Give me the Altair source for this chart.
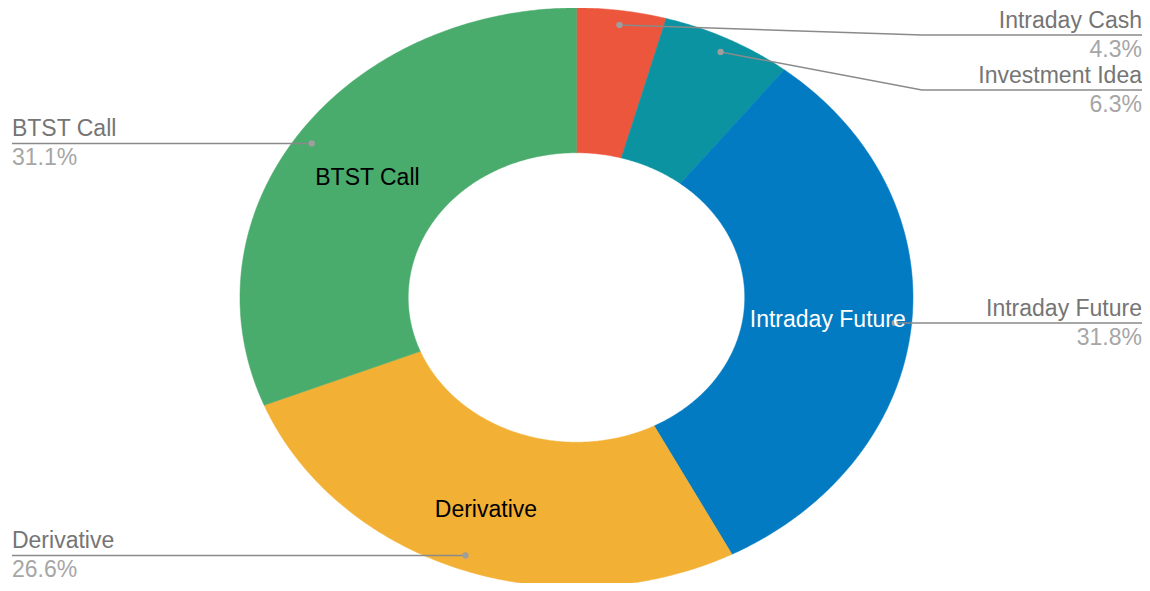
import altair as alt
import numpy as np
import pandas as pd

# ---- data ----
names = ["Intraday Cash", "Investment Idea", "Intraday Future", "Derivative", "BTST Call"]
values = [4.3, 6.3, 31.8, 26.6, 31.1]
slice_colors = ["#EB563C", "#0B93A1", "#027BC2", "#F2B035", "#49AB6C"]
inner_label_colors = ["", "", "#FFFFFF", "#000000", "#000000"]
label_side = ["right", "right", "right", "left", "left"]

# ---- layout (data units of the stretched unit circle) ----
INNER_R, OUTER_R, DOT_R = 0.5, 1.0, 0.95
inner_label_r = [0.75, 0.75, 0.75, 0.775, 0.75]
X_DOM = [-1.6894, 1.6806]
Y_DOM = [-0.9862, 1.0]
RIGHT_X, LEFT_X, ELBOW_X = 1.6806, -1.6776, 1.0267
pushed_line_y = {"Intraday Cash": 0.9067, "Investment Idea": 0.7168}

total = float(sum(values))
cum = np.concatenate([[0.0], np.cumsum(values)]) / total * 2 * np.pi

poly_rows, lead_rows, lab_rows = [], [], []
for k, (n, v) in enumerate(zip(names, values)):
    a0, a1 = cum[k], cum[k + 1]
    steps = max(int(np.degrees(a1 - a0) * 2), 4)
    ang = np.linspace(a0, a1, steps + 1)
    pts = [(OUTER_R * np.sin(a), OUTER_R * np.cos(a)) for a in ang]
    pts += [(INNER_R * np.sin(a), INNER_R * np.cos(a)) for a in ang[::-1]]
    for i, (x, y) in enumerate(pts):
        poly_rows.append({"name": n, "i": i, "x": x, "y": y})

    mid = (a0 + a1) / 2
    dx, dy = DOT_R * np.sin(mid), DOT_R * np.cos(mid)
    side = label_side[k]
    path = [(dx, dy)]
    if n in pushed_line_y:
        ly = pushed_line_y[n]
        path.append((ELBOW_X, ly))
    else:
        ly = dy
    lx = RIGHT_X if side == "right" else LEFT_X
    path.append((lx, ly))
    for i, (x, y) in enumerate(path):
        lead_rows.append({"name": n, "i": i, "x": x, "y": y})
    tr = inner_label_r[k]
    lab_rows.append({
        "name": n, "pct": f"{v:.1f}%", "side": side,
        "lx": lx, "ly": ly, "dx": dx, "dy": dy,
        "ix": tr * np.sin(mid), "iy": tr * np.cos(mid),
        "tcol": inner_label_colors[k],
    })

poly = pd.DataFrame(poly_rows)
lead = pd.DataFrame(lead_rows)
labs = pd.DataFrame(lab_rows)

xs = alt.Scale(domain=X_DOM, nice=False, zero=False)
ys = alt.Scale(domain=Y_DOM, nice=False, zero=False)
color_scale = alt.Scale(domain=names, range=slice_colors)
FONT = "Liberation Sans"
FS = 23

slices = alt.Chart(poly).mark_line(interpolate="linear-closed", strokeWidth=0.5).encode(
    x=alt.X("x:Q", scale=xs, axis=None),
    y=alt.Y("y:Q", scale=ys, axis=None),
    fill=alt.Fill("name:N", scale=color_scale, legend=None),
    stroke=alt.Stroke("name:N", scale=color_scale, legend=None),
    order=alt.Order("i:Q"),
)

leaders = alt.Chart(lead).mark_line(color="#8A8A8A", strokeWidth=1.5).encode(
    x=alt.X("x:Q", scale=xs, axis=None),
    y=alt.Y("y:Q", scale=ys, axis=None),
    detail="name:N",
    order=alt.Order("i:Q"),
)

dots = alt.Chart(labs).mark_circle(size=40, color="#9E9E9E", opacity=1).encode(
    x=alt.X("dx:Q", scale=xs, axis=None),
    y=alt.Y("dy:Q", scale=ys, axis=None),
)

def side_text(side, field, dy, color):
    return alt.Chart(labs).transform_filter(alt.datum.side == side).mark_text(
        align=side, baseline="alphabetic", dy=dy, fontSize=FS, font=FONT, color=color
    ).encode(
        x=alt.X("lx:Q", scale=xs, axis=None),
        y=alt.Y("ly:Q", scale=ys, axis=None),
        text=f"{field}:N",
    )

inner = alt.Chart(labs).transform_filter(alt.datum.tcol != "").mark_text(
    align="center", baseline="middle", fontSize=FS, font=FONT, dy=2
).encode(
    x=alt.X("ix:Q", scale=xs, axis=None),
    y=alt.Y("iy:Q", scale=ys, axis=None),
    text="name:N",
    color=alt.Color("tcol:N", scale=None),
)

chart = alt.layer(
    slices, leaders, dots, inner,
    side_text("right", "name", -7, "#757575"),
    side_text("left", "name", -7, "#757575"),
    side_text("right", "pct", 22, "#A6A6A6"),
    side_text("left", "pct", 22, "#A6A6A6"),
).properties(
    width=1134, height=575, padding=0,
    autosize=alt.AutoSizeParams(type="none"),
).configure_view(strokeWidth=0)

chart.save("out.html", embed_options={"renderer": "svg", "actions": False})
